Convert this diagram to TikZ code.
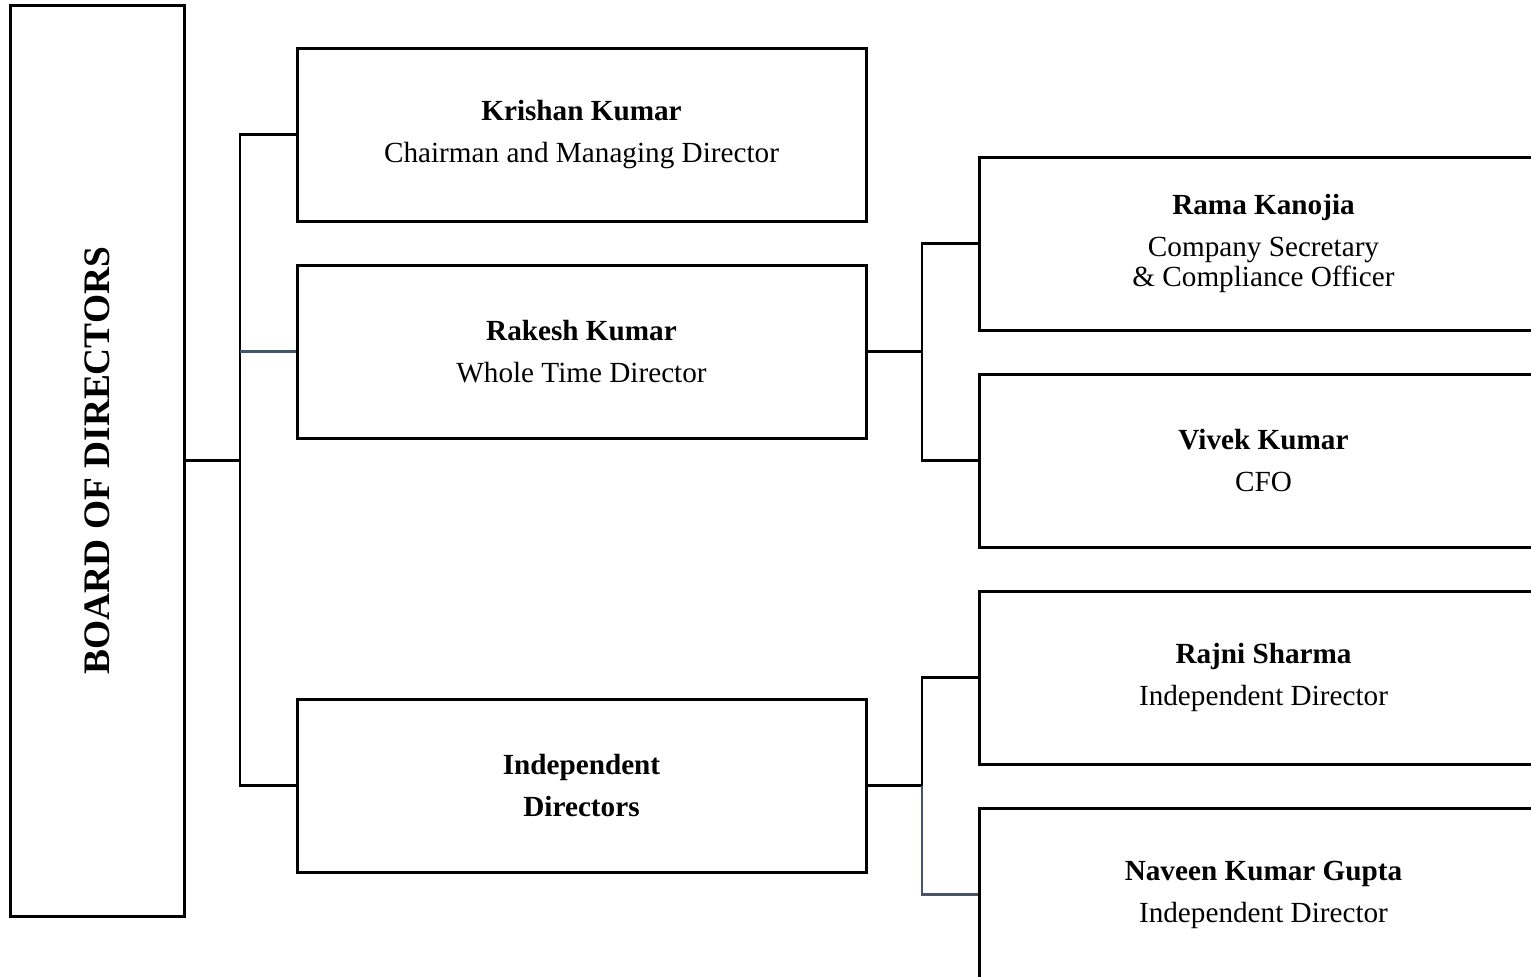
\documentclass[tikz,border=0pt]{standalone}
\usepackage{fontspec}
\setmainfont{Liberation Serif}
\usepackage{tikz}
\usetikzlibrary{positioning}
\definecolor{slate}{HTML}{44546A}
\tikzstyle{member} = [draw=black, line width=1.5pt, minimum width=284.5pt, minimum height=86.5pt, align=center, inner sep=0pt, font={\fontsize{14.6}{15}\selectfont}]
\tikzstyle{link}   = [line width=1.3pt]
\newcommand{\who}[2]{\textbf{#1}\\[6pt]#2}

\begin{document}
\begin{tikzpicture}[x=0.5pt,y=-0.5pt]
        \path[use as bounding box, clip] (0,0) rectangle (1531,976);

        % board (rotated, so its south anchor faces right)
        \node[draw=black, line width=1.5pt, rotate=90, minimum width=455.5pt, minimum height=87pt, inner sep=0pt, font={\fontsize{18.7}{20}\selectfont\bfseries}] (board) at (97,460.5) {BOARD OF DIRECTORS};

        \node[member] (krishan) at (581.5,134.5) {\who{Krishan Kumar}{Chairman and Managing Director}};
        \node[member] (rakesh)  at (581.5,351.5) {\who{Rakesh Kumar}{Whole Time Director}};
        \node[member] (indep)   at (581.5,785.5) {\textbf{Independent}\\[6pt]\textbf{Directors}};

        \node[member] (rama)   at (1263.5,243.5) {\who{Rama Kanojia}{Company Secretary\\ \& Compliance Officer}};
        \node[member] (vivek)  at (1263.5,460.5) {\who{Vivek Kumar}{CFO}};
        \node[member] (rajni)  at (1263.5,677.5) {\who{Rajni Sharma}{Independent Director}};
        \node[member] (naveen) at (1263.5,894.5) {\who{Naveen Kumar Gupta}{Independent Director}};

        \coordinate (busL) at (240,460.5);
        \coordinate (busR) at (922,351.5);
        \coordinate (busI) at (922,785.5);

        \draw[link] (board.south) -- (busL);
        \draw[link] (busL) |- (krishan.west);
        \draw[link] (busL) |- (indep.west);
        \draw[link, slate] (busL |- rakesh.west) -- (rakesh.west);

        \draw[link] (rakesh.east) -- (busR);
        \draw[link] (busR) |- (rama.west);
        \draw[link] (busR) |- (vivek.west);

        \draw[link] (indep.east) -- (busI);
        \draw[link] (busI) |- (rajni.west);
        \draw[link, slate] (busI) |- (naveen.west);
    \end{tikzpicture}
\end{document}
